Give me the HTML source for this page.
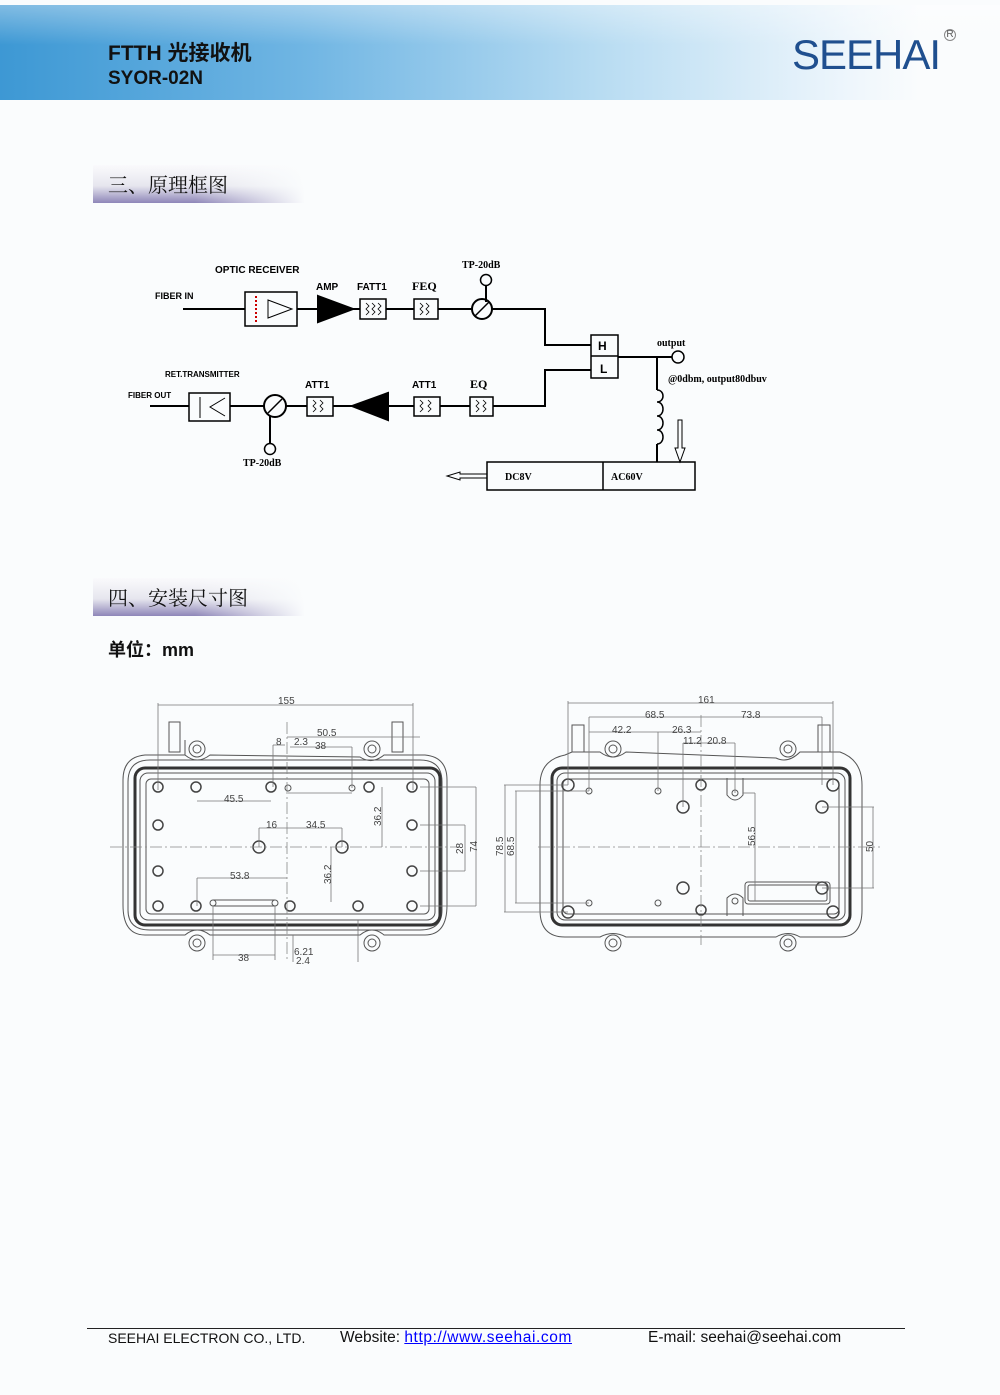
<!DOCTYPE html>
<html><head><meta charset="utf-8"><style>
html,body{margin:0;padding:0;background:#fafcfd;}
body{width:1000px;height:1395px;position:relative;overflow:hidden;font-family:"Liberation Sans","Noto Sans CJK SC",sans-serif;}
.hdr{position:absolute;left:0;top:5px;width:1000px;height:95px;background:linear-gradient(90deg,#3d98d4 0%,#6fb5e3 30%,#b8dcf2 60%,#eef6fc 85%,#fafcfd 92%);}
.hdr:before{content:"";position:absolute;left:0;top:0;right:0;height:40px;background:linear-gradient(180deg,rgba(255,255,255,.35),rgba(255,255,255,0));}
.t1{position:absolute;left:108px;top:37px;font-size:21px;font-weight:bold;color:#111;}
.t2{position:absolute;left:108px;top:68px;font-size:19px;font-weight:bold;color:#111;}
.logo{position:absolute;left:792px;top:31px;font-size:42px;color:#1f4f8f;letter-spacing:-1px;font-family:"Liberation Sans",sans-serif;}
.reg{position:absolute;left:944px;top:29px;font-size:10px;color:#555;border:1px solid #888;border-radius:50%;width:10px;height:10px;line-height:10px;text-align:center;}
.sec{position:absolute;left:93px;width:212px;height:38px;background:linear-gradient(180deg,#fafafc 0%,#e6e6ee 55%,#8e86b8 100%);}
.sec:after{content:"";position:absolute;right:0;top:0;bottom:0;width:110px;background:linear-gradient(90deg,rgba(250,252,253,0),#fafcfd);}
.sec span{position:absolute;left:15px;top:4px;font-size:20px;color:#111;font-family:"Liberation Serif","Noto Serif CJK SC",serif;z-index:1;}
.unit{position:absolute;left:108px;top:636px;font-size:18px;font-weight:bold;color:#111;}
.foot{position:absolute;top:1328px;left:87px;width:818px;border-top:1.5px solid #222;}
.ft{position:absolute;top:1329px;font-size:15px;color:#111;}
svg{position:absolute;left:0;top:0;}
</style></head><body>
<div class="hdr"></div>
<div class="t1">FTTH 光接收机</div>
<div class="t2">SYOR-02N</div>
<div class="logo">SEEHAI</div>
<div class="reg">R</div>
<div class="sec" style="top:165px"><span>三、原理框图</span></div>
<div class="sec" style="top:578px"><span>四、安装尺寸图</span></div>
<div class="unit">单位：mm</div>

<svg width="1000" height="1395" viewBox="0 0 1000 1395" font-family="Liberation Sans, sans-serif">
<g stroke="#000" stroke-width="2" fill="none">
<polyline points="183,309 245,309"/>
<rect x="245" y="292" width="52" height="34" stroke-width="1.5"/>
<line x1="297" y1="309" x2="318" y2="309"/>
<polygon points="318,296 353,309 318,322" fill="#000"/>
<line x1="353" y1="309" x2="360" y2="309"/>
<rect x="360" y="299" width="26" height="20" stroke-width="1.5"/>
<line x1="386" y1="309" x2="414" y2="309"/>
<rect x="414" y="299" width="24" height="20" stroke-width="1.5"/>
<line x1="438" y1="309" x2="472" y2="309"/>
<circle cx="482" cy="309" r="10"/>
<line x1="475" y1="316" x2="489" y2="302" stroke-width="1.5"/>
<line x1="486" y1="286" x2="486" y2="302"/>
<circle cx="486" cy="280" r="5.5" stroke-width="1.5"/>
<polyline points="492,309 545,309 545,345 591,345"/>
<rect x="591" y="335" width="27" height="43" stroke-width="1.5"/>
<line x1="591" y1="356" x2="618" y2="356" stroke-width="1.5"/>
<line x1="618" y1="357" x2="672" y2="357"/>
<circle cx="678" cy="357" r="6" stroke-width="1.5"/>
<line x1="657" y1="357" x2="657" y2="390"/>
<path d="M657,390 c8,0 8,12 0,12 c8,0 8,14 0,14 c8,0 8,14 0,14 c8,0 8,14 0,14" stroke-width="1.5"/>
<line x1="657" y1="444" x2="657" y2="462"/>
<rect x="487" y="462" width="208" height="28" stroke-width="1.5"/>
<line x1="603" y1="462" x2="603" y2="490" stroke-width="1.5"/>
<polyline points="591,370 545,370 545,406 493,406"/>
<rect x="470" y="397" width="23" height="19" stroke-width="1.5"/>
<line x1="470" y1="406" x2="440" y2="406"/>
<rect x="414" y="397" width="26" height="19" stroke-width="1.5"/>
<line x1="414" y1="406" x2="388" y2="406"/>
<polygon points="388,393 352,406 388,420" fill="#000"/>
<line x1="352" y1="406" x2="333" y2="406"/>
<rect x="307" y="397" width="26" height="19" stroke-width="1.5"/>
<line x1="307" y1="406" x2="286" y2="406"/>
<circle cx="275" cy="406" r="11"/>
<line x1="268" y1="413" x2="282" y2="399" stroke-width="1.5"/>
<line x1="270" y1="416" x2="270" y2="443"/>
<circle cx="270" cy="449" r="5.5" stroke-width="1.5"/>
<line x1="264" y1="406" x2="230" y2="406"/>
<rect x="189" y="393" width="41" height="28" stroke-width="1.5"/>
<line x1="150" y1="406" x2="189" y2="406"/>
</g>
<g stroke="#000" fill="none" stroke-width="1">
<polygon points="268,300 268,318 292,309"/>
<line x1="256" y1="296" x2="256" y2="322" stroke="#c00" stroke-dasharray="2,2" stroke-width="2"/>
<polyline points="225,398 210,407 225,416"/>
<line x1="200" y1="397" x2="200" y2="418"/>
<path d="M366,303 l3,3 l-3,3 l3,3 l-3,3 M372,303 l3,3 l-3,3 l3,3 l-3,3 M378,303 l3,3 l-3,3 l3,3 l-3,3" stroke-width=".8"/>
<path d="M420,303 l3,3 l-3,3 l3,3 l-3,3 M426,303 l3,3 l-3,3 l3,3 l-3,3" stroke-width=".8"/>
<path d="M313,400 l3,3 l-3,3 l3,3 l-3,3 M320,400 l3,3 l-3,3 l3,3 l-3,3" stroke-width=".8"/>
<path d="M420,400 l3,3 l-3,3 l3,3 l-3,3 M428,400 l3,3 l-3,3 l3,3 l-3,3" stroke-width=".8"/>
<path d="M476,400 l3,3 l-3,3 l3,3 l-3,3 M483,400 l3,3 l-3,3 l3,3 l-3,3" stroke-width=".8"/>
<polygon points="487,474 460,474 460,472 447,476 460,480 460,478 487,478"/>
<polygon points="678,420 678,448 675,448 680,462 685,448 682,448 682,420"/>
</g>
<g font-size="10" fill="#000" font-weight="bold">
<text x="215" y="273" font-size="10">OPTIC RECEIVER</text>
<text x="155" y="299" font-size="9">FIBER IN</text>
<text x="316" y="290">AMP</text>
<text x="357" y="290">FATT1</text>
<text x="412" y="290" font-family="Liberation Serif,serif" font-size="12">FEQ</text>
<text x="462" y="268" font-family="Liberation Serif,serif">TP-20dB</text>
<text x="598" y="350" font-size="12">H</text>
<text x="600" y="373" font-size="12">L</text>
<text x="657" y="346" font-family="Liberation Serif,serif">output</text>
<text x="668" y="382" font-family="Liberation Serif,serif">@0dbm, output80dbuv</text>
<text x="165" y="377" font-size="8">RET.TRANSMITTER</text>
<text x="128" y="398" font-size="8">FIBER OUT</text>
<text x="305" y="388">ATT1</text>
<text x="412" y="388">ATT1</text>
<text x="470" y="388" font-family="Liberation Serif,serif" font-size="12">EQ</text>
<text x="243" y="466" font-family="Liberation Serif,serif">TP-20dB</text>
<text x="505" y="480" font-family="Liberation Serif,serif">DC8V</text>
<text x="611" y="480" font-family="Liberation Serif,serif">AC60V</text>
</g>

<g stroke="#555" fill="none" stroke-width="1">
<path d="M145,755 L185,755 185,740 M185,755 Q197,765 210,755 L360,757 Q372,765 384,755 L425,755 Q447,757 447,780 L447,905 Q447,935 425,935 L384,935 Q372,925 360,935 L210,935 Q197,925 185,935 L145,935 Q123,935 123,905 L123,780 Q123,757 145,755Z"/>
<path d="M150,760 L420,760 Q442,760 442,782 L442,910 Q442,930 420,930 L150,930 Q128,930 128,910 L128,782 Q128,760 150,760Z"/>
<rect x="135" y="768" width="305" height="157" rx="10" stroke-width="3" stroke="#333"/>
<rect x="140" y="773" width="295" height="147" rx="8"/>
<rect x="146" y="779" width="283" height="135" rx="5"/>
<rect x="169" y="722" width="11" height="30"/><rect x="392" y="722" width="11" height="30"/>
<circle cx="197" cy="749" r="8"/><circle cx="197" cy="749" r="4"/>
<circle cx="372" cy="749" r="8"/><circle cx="372" cy="749" r="4"/>
<circle cx="197" cy="943" r="8"/><circle cx="197" cy="943" r="4"/>
<circle cx="372" cy="943" r="8"/><circle cx="372" cy="943" r="4"/>
<g stroke="#444" stroke-width="1.5">
<circle cx="158" cy="787" r="5"/><circle cx="196" cy="787" r="5"/><circle cx="271" cy="787" r="5"/><circle cx="369" cy="787" r="5"/><circle cx="412" cy="787" r="5"/>
<circle cx="158" cy="825" r="5"/><circle cx="412" cy="825" r="5"/>
<circle cx="158" cy="871" r="5"/><circle cx="412" cy="871" r="5"/>
<circle cx="158" cy="906" r="5"/><circle cx="196" cy="906" r="5"/><circle cx="290" cy="906" r="5"/><circle cx="358" cy="906" r="5"/><circle cx="412" cy="906" r="5"/>
<circle cx="259" cy="847" r="6"/><circle cx="342" cy="847" r="6"/>
</g>
<circle cx="288" cy="788" r="3"/><circle cx="352" cy="788" r="3"/><circle cx="213" cy="903" r="3"/><circle cx="275" cy="903" r="3"/>
<line x1="213" y1="900" x2="275" y2="900"/><line x1="213" y1="906" x2="275" y2="906"/>
<g stroke="#777" stroke-width=".8">
<line x1="158" y1="703" x2="158" y2="790"/><line x1="413" y1="703" x2="413" y2="790"/>
<line x1="158" y1="705" x2="413" y2="705"/>
<line x1="287" y1="737" x2="420" y2="737"/>
<line x1="290" y1="747" x2="352" y2="747"/><line x1="352" y1="747" x2="352" y2="788"/>
<line x1="273" y1="745" x2="285" y2="745"/><line x1="273" y1="745" x2="273" y2="787"/>
<line x1="197" y1="801" x2="271" y2="801"/>
<line x1="288" y1="793" x2="352" y2="793"/>
<line x1="259" y1="828" x2="342" y2="828"/><line x1="259" y1="828" x2="259" y2="847"/><line x1="342" y1="828" x2="342" y2="847"/>
<line x1="382" y1="787" x2="382" y2="847"/><line x1="331" y1="847" x2="331" y2="902"/>
<line x1="197" y1="878" x2="287" y2="878"/><line x1="197" y1="878" x2="197" y2="906"/>
<line x1="213" y1="955" x2="275" y2="955"/><line x1="213" y1="906" x2="213" y2="960"/><line x1="275" y1="906" x2="275" y2="960"/>
<line x1="420" y1="787" x2="476" y2="787"/><line x1="420" y1="906" x2="476" y2="906"/><line x1="476" y1="787" x2="476" y2="906"/>
<line x1="420" y1="825" x2="465" y2="825"/><line x1="420" y1="871" x2="465" y2="871"/><line x1="465" y1="825" x2="465" y2="871"/>
<line x1="358" y1="920" x2="358" y2="962"/><line x1="293" y1="935" x2="293" y2="962"/>
</g>
<g stroke="#888" stroke-width=".8" stroke-dasharray="12,3,2,3">
<line x1="110" y1="847" x2="460" y2="847"/><line x1="287" y1="722" x2="287" y2="962"/>
</g>
</g>
<g font-size="10" fill="#444">
<text x="278" y="704">155</text><text x="317" y="736">50.5</text><text x="276" y="745">8</text><text x="294" y="745">2.3</text><text x="315" y="749">38</text>
<text x="224" y="802">45.5</text><text x="266" y="828">16</text><text x="306" y="828">34.5</text><text x="230" y="879">53.8</text>
<text x="238" y="961">38</text><text x="294" y="955">6.21</text><text x="296" y="964">2.4</text>
<text x="381" y="826" transform="rotate(-90 381 826)">36.2</text>
<text x="331" y="884" transform="rotate(-90 331 884)">36.2</text>
<text x="463" y="854" transform="rotate(-90 463 854)">28</text>
<text x="477" y="852" transform="rotate(-90 477 852)">74</text>
</g>

<g stroke="#555" fill="none" stroke-width="1">
<path d="M572,752 L600,752 Q613,762 626,752 L776,758 Q788,764 800,752 L840,752 Q862,760 862,785 L862,910 Q862,937 840,937 L800,937 Q788,930 776,937 L626,937 Q613,930 600,937 L565,937 Q540,937 540,910 L540,785 Q540,760 565,755Z"/>
<rect x="552" y="768" width="298" height="157" rx="10" stroke-width="3" stroke="#333"/>
<rect x="557" y="773" width="288" height="147" rx="8"/>
<rect x="563" y="779" width="276" height="135" rx="5"/>
<rect x="572" y="725" width="12" height="27"/><rect x="818" y="725" width="12" height="27"/>
<circle cx="613" cy="749" r="8"/><circle cx="613" cy="749" r="4"/>
<circle cx="788" cy="749" r="8"/><circle cx="788" cy="749" r="4"/>
<circle cx="613" cy="943" r="8"/><circle cx="613" cy="943" r="4"/>
<circle cx="788" cy="943" r="8"/><circle cx="788" cy="943" r="4"/>
<g stroke="#444" stroke-width="1.5">
<circle cx="568" cy="785" r="6"/><circle cx="833" cy="785" r="6"/><circle cx="568" cy="912" r="6"/><circle cx="833" cy="912" r="6"/>
<circle cx="683" cy="807" r="6"/><circle cx="822" cy="807" r="6"/><circle cx="683" cy="888" r="6"/><circle cx="822" cy="888" r="6"/>
<circle cx="701" cy="785" r="5"/><circle cx="701" cy="910" r="5"/>
</g>
<circle cx="589" cy="791" r="3"/><circle cx="658" cy="791" r="3"/><circle cx="589" cy="903" r="3"/><circle cx="658" cy="903" r="3"/>
<circle cx="735" cy="793" r="3"/><circle cx="735" cy="901" r="3"/>
<path d="M727,778 L727,795 Q735,805 743,795 L743,778"/>
<path d="M727,916 L727,898 Q735,890 743,898 L743,916"/>
<rect x="745" y="882" width="85" height="22" rx="3"/><rect x="748" y="885" width="79" height="16" rx="2"/>
<g stroke="#777" stroke-width=".8">
<line x1="568" y1="701" x2="568" y2="785"/><line x1="833" y1="701" x2="833" y2="785"/>
<line x1="568" y1="703" x2="833" y2="703"/>
<line x1="589" y1="717" x2="822" y2="717"/><line x1="589" y1="717" x2="589" y2="791"/><line x1="822" y1="717" x2="822" y2="785"/>
<line x1="589" y1="732" x2="701" y2="732"/><line x1="658" y1="732" x2="658" y2="791"/>
<line x1="683" y1="743" x2="735" y2="743"/><line x1="683" y1="743" x2="683" y2="807"/><line x1="735" y1="743" x2="735" y2="793"/>
<line x1="504" y1="785" x2="568" y2="785"/><line x1="504" y1="912" x2="568" y2="912"/><line x1="505" y1="785" x2="505" y2="912"/>
<line x1="515" y1="791" x2="589" y2="791"/><line x1="515" y1="903" x2="589" y2="903"/><line x1="516" y1="791" x2="516" y2="903"/>
<line x1="743" y1="793" x2="755" y2="793"/><line x1="755" y1="793" x2="755" y2="901"/>
<line x1="822" y1="807" x2="874" y2="807"/><line x1="822" y1="888" x2="874" y2="888"/><line x1="873" y1="807" x2="873" y2="888"/>
</g>
<g stroke="#888" stroke-width=".8" stroke-dasharray="12,3,2,3">
<line x1="538" y1="847" x2="880" y2="847"/><line x1="701" y1="715" x2="701" y2="945"/>
</g>
</g>
<g font-size="10" fill="#444">
<text x="698" y="703">161</text><text x="645" y="718">68.5</text><text x="741" y="718">73.8</text>
<text x="612" y="733">42.2</text><text x="672" y="733">26.3</text><text x="683" y="744">11.2</text><text x="707" y="744">20.8</text>
<text x="503" y="856" transform="rotate(-90 503 856)">78.5</text>
<text x="514" y="856" transform="rotate(-90 514 856)">68.5</text>
<text x="755" y="846" transform="rotate(-90 755 846)">56.5</text>
<text x="873" y="852" transform="rotate(-90 873 852)">50</text>
</g>
</svg>

<div class="foot"></div>
<div class="ft" style="left:108px;font-size:14px;top:1330px">SEEHAI ELECTRON CO., LTD.</div>
<div class="ft" style="left:340px;font-size:15.5px">Website: <span style="color:#00f;text-decoration:underline;letter-spacing:.6px">http://www.seehai.com</span></div>
<div class="ft" style="left:648px;font-size:15.5px">E-mail: seehai@seehai.com</div>
</body></html>
